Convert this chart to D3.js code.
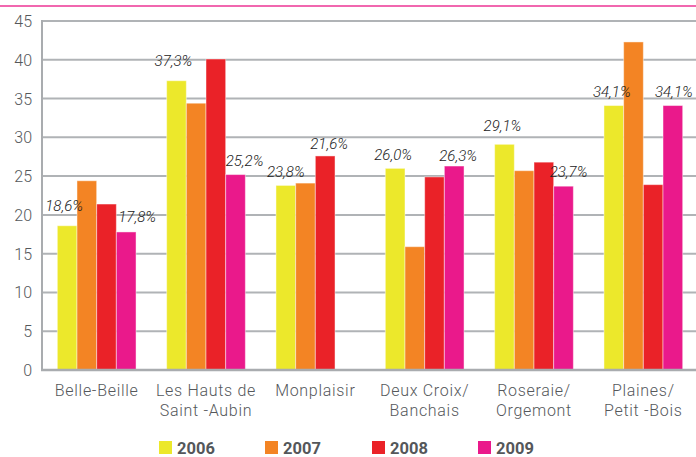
<!DOCTYPE html>
<html><head><meta charset="utf-8">
<script src="https://cdn.jsdelivr.net/npm/d3@7/dist/d3.min.js"></script>
<style>
html,body{margin:0;padding:0;background:#fff;}
svg{display:block;}
</style></head>
<body>
<svg id="chart" width="696" height="457"></svg>
<script>
const categories = ["Belle-Beille", "Les Hauts de\nSaint -Aubin", "Monplaisir", "Deux Croix/\nBanchais", "Roseraie/\nOrgemont", "Plaines/\nPetit  -Bois"];
const series = ["2006", "2007", "2008", "2009"];
const v2006 = [18.6, 37.3, 23.8, 26.0, 29.1, 34.1];
const v2007 = [24.4, 34.4, 24.1, 15.9, 25.7, 42.3];
const v2008 = [21.4, 40.1, 27.6, 24.9, 26.8, 23.9];
const v2009 = [17.8, 25.2, null, 26.3, 23.7, 34.1];
const yTicks = [0, 5, 10, 15, 20, 25, 30, 35, 40, 45];
// value labels: [category index, series index, text]
const labels = [
  [0, 0, "18,6%"], [0, 3, "17,8%"],
  [1, 0, "37,3%"], [1, 3, "25,2%"],
  [2, 0, "23,8%"], [2, 2, "21,6%"],
  [3, 0, "26,0%"], [3, 3, "26,3%"],
  [4, 0, "29,1%"], [4, 3, "23,7%"],
  [5, 0, "34,1%"], [5, 3, "34,1%"]
];
// label nudges in px [dx, gap above bar top]
const labelNudge = [[-3,15],[11,10],[-3,15],[9,9],[0,8],[4,7],[-2,8],[4,5],[-2,13],[5,9],[-2,9],[1,9]];

const colors = ["#ece82b", "#f38424", "#ea2228", "#ea198b"];
const values = [v2006, v2007, v2008, v2009];

const svg = d3.select("#chart");
const mLeft = 42, mRight = 698, mTop = 21, mBottom = 370;

const x = d3.scaleBand().domain(categories).range([mLeft, mRight]).paddingInner(0.28).paddingOuter(0.14);
const xs = d3.scaleBand().domain(series).range([0, x.bandwidth()]);
const y = d3.scaleLinear().domain([0, 45]).range([mBottom, mTop]);

// top pink rule
svg.append("line").attr("x1", 0).attr("x2", 696).attr("y1", 6).attr("y2", 6)
  .attr("stroke", "#ec3494").attr("stroke-width", 1.5);

// gridlines
svg.append("g").selectAll("line").data(yTicks.filter(d => d > 0)).join("line")
  .attr("x1", mLeft).attr("x2", 696)
  .attr("y1", d => y(d)).attr("y2", d => y(d))
  .attr("stroke", "#b0b3b6").attr("stroke-width", 2);

// y tick labels
svg.append("g").selectAll("text").data(yTicks).join("text")
  .attr("x", 32).attr("y", d => y(d) + 6)
  .attr("text-anchor", "end")
  .attr("font-family", "Roboto, sans-serif").attr("font-size", 16).attr("font-weight", 300)
  .attr("fill", "#55585b").text(d => d);

// bars
const rows = [];
categories.forEach((c, i) => series.forEach((s, j) => {
  if (values[j][i] != null) rows.push({c, s, j, v: values[j][i]});
}));
svg.append("g").selectAll("rect").data(rows).join("rect")
  .attr("x", d => x(d.c) + xs(d.s))
  .attr("y", d => y(d.v))
  .attr("width", xs.bandwidth())
  .attr("height", d => y(0) - y(d.v))
  .attr("fill", d => colors[d.j])
  .attr("stroke", "#fff").attr("stroke-opacity", 0.45).attr("stroke-width", 1);

// axes lines
svg.append("line").attr("x1", mLeft).attr("x2", mLeft).attr("y1", mTop - 1).attr("y2", mBottom)
  .attr("stroke", "#a9acaf").attr("stroke-width", 2);
svg.append("line").attr("x1", mLeft - 1).attr("x2", 696).attr("y1", mBottom).attr("y2", mBottom)
  .attr("stroke", "#a9acaf").attr("stroke-width", 2.5);

// value labels
svg.append("g").selectAll("text").data(labels).join("text")
  .attr("x", (d, i) => x(categories[d[0]]) + xs(series[d[1]]) + xs.bandwidth() / 2 + labelNudge[i][0])
  .attr("y", (d, i) => y(values[d[1]][d[0]]) - labelNudge[i][1])
  .attr("text-anchor", "middle")
  .attr("font-family", "Roboto, sans-serif").attr("font-style", "italic")
  .attr("font-size", 15).attr("font-weight", 300).attr("fill", "#222")
  .text(d => d[2]);

// category labels
const cat = svg.append("g").selectAll("text").data(categories).join("text")
  .attr("x", d => x(d) + x.bandwidth() / 2)
  .attr("y", 396)
  .attr("text-anchor", "middle")
  .attr("font-family", "Roboto, sans-serif").attr("font-size", 16).attr("font-weight", 300)
  .attr("letter-spacing", 0.7)
  .attr("fill", "#55585b");
cat.each(function(d) {
  const parts = d.split("\n");
  d3.select(this).selectAll("tspan").data(parts).join("tspan")
    .attr("x", x(d) + x.bandwidth() / 2)
    .attr("dy", (p, k) => k === 0 ? 0 : 20)
    .text(p => p);
});

// legend
const lx = [159, 265, 372, 478];
const lg = svg.append("g").selectAll("g").data(series).join("g")
  .attr("transform", (d, i) => `translate(${lx[i]},441)`);
lg.append("rect").attr("width", 13).attr("height", 13).attr("fill", (d, i) => colors[i]);
lg.append("text").attr("x", 18).attr("y", 13)
  .attr("font-family", "Roboto, sans-serif").attr("font-weight", "bold")
  .attr("font-size", 16.5).attr("fill", "#54575a").text(d => d);
</script>
</body></html>
